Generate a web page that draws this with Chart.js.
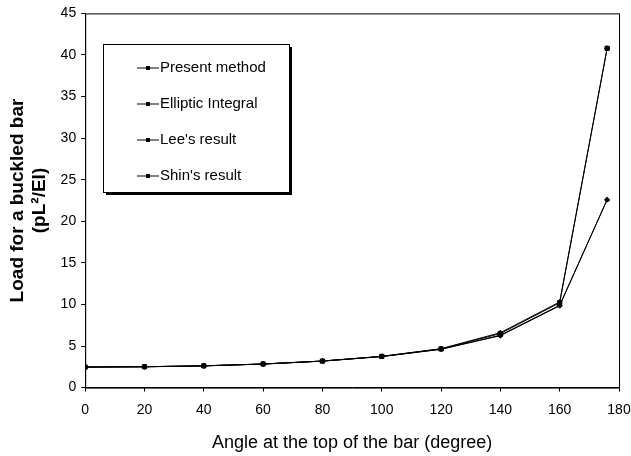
<!DOCTYPE html>
<html>
<head>
<meta charset="utf-8">
<script src="https://cdn.jsdelivr.net/npm/chart.js@4"></script>
<style>
  html, body { margin: 0; padding: 0; background: #fff; }
  #wrap { width: 631px; height: 456px; }
</style>
</head>
<body>
<div id="wrap"><canvas id="grafica"></canvas></div>
<script>
// angles (degree)
const angles = [0, 20, 40, 60, 80, 100, 120, 140, 160, 176];

// load values
const presentMethod = [2.47, 2.51, 2.62, 2.84, 3.19, 3.75, 4.65, 6.5, 10.2, 40.8];
const ellipticIntegral = [2.47, 2.51, 2.62, 2.83, 3.19, 3.74, 4.63, 6.24, 9.84, 22.6];
const leesResult = [2.47, 2.50, 2.61, 2.83, 3.18, 3.73, 4.6, 6.3, 9.9, 22.6];
const shinsResult = [2.47, 2.51, 2.62, 2.84, 3.2, 3.76, 4.68, 6.6, 10.3, 40.8];

const labels = ['Present method', 'Elliptic Integral', "Lee's result", "Shin's result"];
const series = [presentMethod, ellipticIntegral, leesResult, shinsResult];
const markers = ['rect', 'rectRot', 'triangle', 'rectRot'];
const markerSizes = [3, 2.5, 2.5, 2.5];

const fontName = "'Liberation Sans Narrow', 'Liberation Sans', Arial, sans-serif";

function toPoints(vals) {
    return vals.map((v, i) => ({ x: angles[i], y: v }));
}

// legend box inside the plot and frame round the plot area
const boxPlugin = {
    id: 'boxPlugin',
    afterDraw(chart) {
        const ctx = chart.ctx;
        const a = chart.chartArea;
        ctx.save();
        ctx.strokeStyle = '#000';
        ctx.lineWidth = 1;
        ctx.strokeRect(a.left + 0.5, a.top + 0.5, a.right - a.left, a.bottom - a.top);

        // legend
        const lx = 103, ly = 44, lw = 186, lh = 148;
        ctx.fillStyle = '#000';
        ctx.fillRect(lx + 3, ly + lh, lw, 3);
        ctx.fillRect(lx + lw, ly + 3, 3, lh);
        ctx.fillStyle = '#fff';
        ctx.fillRect(lx, ly, lw, lh);
        ctx.strokeRect(lx + 0.5, ly + 0.5, lw, lh);

        ctx.font = '15px ' + fontName;
        ctx.textBaseline = 'middle';
        chart.data.datasets.forEach((ds, i) => {
            const y = ly + 24 + i * 36;
            ctx.strokeStyle = '#000';
            ctx.beginPath();
            ctx.moveTo(lx + 34, y);
            ctx.lineTo(lx + 56, y);
            ctx.stroke();
            ctx.fillStyle = '#000';
            ctx.fillRect(lx + 43, y - 2, 4, 4);
            ctx.fillText(ds.label, lx + 57, y);
        });
        ctx.restore();
    }
};

const chart = new Chart(document.getElementById('grafica'), {
    type: 'scatter',
    data: {
        datasets: series.map((s, i) => ({
            label: labels[i],
            data: toPoints(s),
            showLine: true,
            borderColor: '#000',
            backgroundColor: '#000',
            borderWidth: 1,
            pointStyle: markers[i],
            pointRadius: markerSizes[i],
            pointBorderWidth: 1
        }))
    },
    options: {
        responsive: true,
        maintainAspectRatio: false,
        animation: false,
        layout: { padding: { top: 1, right: 0, left: 2, bottom: 0 } },
        plugins: {
            legend: { display: false },
            tooltip: { enabled: false }
        },
        scales: {
            x: {
                type: 'linear',
                min: 0,
                max: 180,
                afterFit: (scale) => { scale.paddingRight = 12; },
                ticks: { stepSize: 20, color: '#000', font: { family: fontName, size: 14 }, padding: 10 },
                grid: { drawOnChartArea: false, tickLength: 4, color: '#000' },
                border: { color: '#000' },
                title: {
                    display: true,
                    text: 'Angle at the top of the bar (degree)',
                    color: '#000',
                    font: { family: fontName, size: 18 },
                    padding: { top: 4, bottom: 2 }
                }
            },
            y: {
                min: 0,
                max: 45,
                ticks: { stepSize: 5, color: '#000', font: { family: fontName, size: 14 }, padding: 5 },
                grid: { drawOnChartArea: false, tickLength: 4, color: '#000' },
                border: { color: '#000' },
                title: {
                    display: true,
                    text: ['Load for a buckled bar', '(pL\u00B2/EI)'],
                    color: '#000',
                    font: { family: "'Liberation Sans', Arial, sans-serif", size: 19, weight: 'bold' },
                    padding: { bottom: 4 }
                }
            }
        }
    },
    plugins: [boxPlugin]
});
</script>
</body>
</html>
